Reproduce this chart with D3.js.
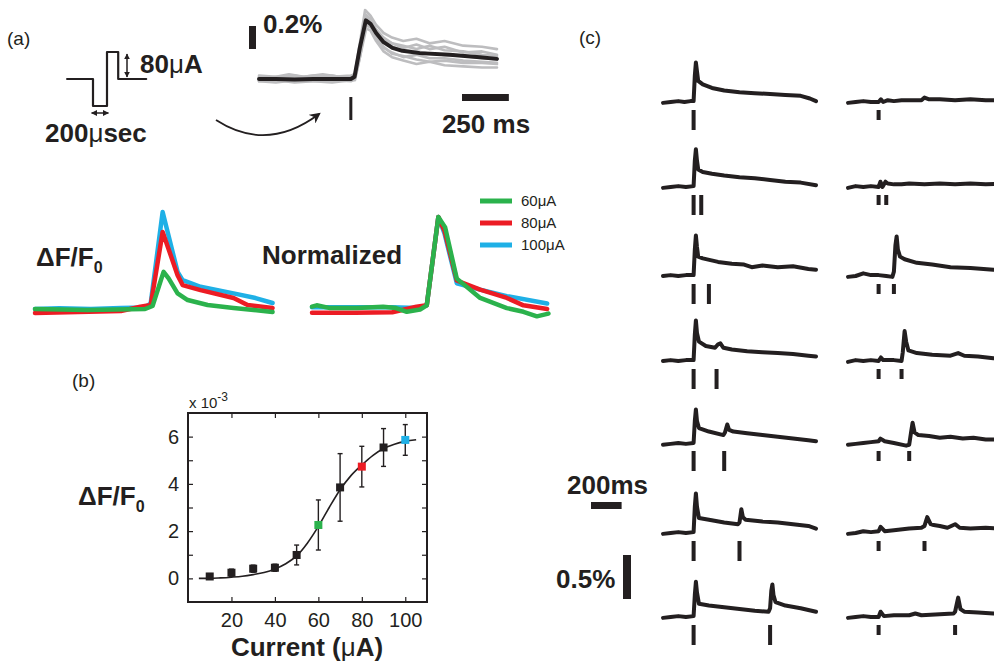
<!DOCTYPE html>
<html>
<head>
<meta charset="utf-8">
<title></title>
<script src="https://d3js.org/d3.v7.min.js"></script>
<style>
  body { margin: 0; background: #fff; }
  svg { display: block; font-family: "Liberation Sans", Arial, Helvetica, sans-serif; }
</style>
</head>
<body>
<div id="fig"></div>
<script>
/* ------------------
  data
------------------ */

// (a) stimulus pulse schematic (usec, uA)
var pulseT = [-370, 0, 0, 200, 200, 360, 360, 760];
var pulseI = [0, 0, -80, -80, 80, 80, 0, 0];

// (a) single stimulus response: mean and single trials (ms, % dF/F)
var meanTrace = [[-490,0],[-400,0],[-300,-0.005],[-200,0],[-100,0],[0,0],[20,0.02],[48,0.27],[80,0.51],[105,0.48],[135,0.4],[175,0.32],[222,0.27],[275,0.245],[368,0.225],[528,0.21],[688,0.19],[780,0.175]];
var trialTraces = [
  [[-490,0.03],[-400,0.02],[-330,0.04],[-250,0.02],[-150,0.04],[-60,0.02],[0,0.02],[22,0.05],[50,0.33],[76,0.6],[105,0.55],[135,0.47],[175,0.4],[220,0.36],[280,0.33],[350,0.35],[420,0.31],[500,0.33],[600,0.29],[700,0.28],[780,0.26]],
  [[-490,-0.02],[-400,-0.01],[-300,-0.03],[-200,-0.02],[-100,-0.01],[0,-0.02],[22,0],[50,0.2],[82,0.44],[105,0.42],[135,0.33],[175,0.24],[220,0.19],[280,0.16],[350,0.13],[420,0.15],[500,0.12],[600,0.11],[700,0.1],[780,0.1]],
  [[-490,0.01],[-420,0],[-320,0.02],[-220,0.01],[-100,0.03],[0,0],[22,0.02],[50,0.3],[78,0.55],[105,0.5],[135,0.43],[175,0.35],[220,0.31],[280,0.29],[350,0.26],[420,0.29],[500,0.25],[600,0.24],[700,0.21],[780,0.2]],
  [[-490,-0.01],[-400,0.01],[-300,0],[-200,-0.01],[-100,0],[0,0.01],[22,0.01],[50,0.25],[84,0.49],[105,0.47],[135,0.37],[175,0.28],[220,0.22],[280,0.2],[350,0.17],[420,0.15],[500,0.16],[600,0.14],[700,0.14],[780,0.13]],
  [[-490,0],[-400,0.02],[-300,0.01],[-200,0.03],[-100,0.01],[0,0.02],[22,0.03],[50,0.29],[80,0.53],[105,0.5],[135,0.43],[175,0.36],[220,0.31],[280,0.27],[350,0.3],[420,0.26],[500,0.28],[600,0.23],[700,0.24],[780,0.21]],
  [[-490,-0.02],[-400,-0.03],[-300,-0.01],[-200,-0.02],[-100,-0.03],[0,-0.01],[22,-0.01],[50,0.2],[78,0.47],[105,0.45],[135,0.36],[175,0.27],[220,0.23],[280,0.19],[350,0.21],[420,0.18],[500,0.18],[600,0.16],[700,0.15],[780,0.14]],
  [[-490,0.02],[-400,0],[-300,0.03],[-200,0],[-100,0.02],[0,0.03],[22,0.04],[50,0.28],[80,0.56],[105,0.52],[135,0.41],[175,0.33],[220,0.28],[280,0.25],[350,0.24],[420,0.22],[500,0.21],[600,0.2],[700,0.18],[780,0.17]]
];

// (a) dF/F traces at three currents (ms, % dF/F)
var currentLabels = ['60\u03bcA', '80\u03bcA', '100\u03bcA'];
var currentColors = ['#2bb24c', '#ec1c24', '#1fb0e6'];
var dff60 = [[-630,0.006],[-350,0],[-40,0.006],[0,0.024],[59,0.23],[86,0.19],[134,0.1],[188,0.06],[295,0.03],[434,0.012],[643,-0.012]];
var dff80 = [[-630,-0.018],[-400,-0.012],[-170,-0.006],[-65,0.02],[-10,0.03],[54,0.47],[134,0.21],[161,0.15],[257,0.12],[434,0.072],[509,0.03],[643,0.012]];
var dff100 = [[-630,0.006],[-500,0.01],[-330,0.006],[-170,0.012],[-40,0.015],[-10,0.04],[54,0.59],[134,0.23],[161,0.18],[257,0.14],[434,0.1],[552,0.072],[643,0.042]];
// (a) same traces normalized to peak
var norm60 = [[-630,0.025],[-605,0.04],[-533,0.01],[-390,0.01],[-249,0.025],[-180,0.01],[-122,-0.03],[-51,-0.005],[-15,0.04],[47,1],[83,0.89],[146,0.33],[271,0.12],[414,0.01],[503,-0.03],[575,-0.08],[637,-0.05]];
var norm80 = [[-630,-0.04],[-400,-0.04],[-200,-0.035],[-70,0.025],[-15,0.04],[47,1],[80,0.85],[146,0.31],[271,0.21],[414,0.12],[503,0.04],[630,0]];
var norm100 = [[-630,0.02],[-400,0.02],[-200,0.02],[-70,0.01],[-15,0.04],[47,1],[80,0.82],[146,0.28],[271,0.21],[414,0.14],[630,0.06]];

// (b) peak dF/F vs current (x 10^-3)
var current = [10, 20, 30, 40, 50, 60, 70, 80, 90, 100];
var peakDff = [0.08, 0.24, 0.41, 0.45, 0.99, 2.26, 3.85, 4.73, 5.54, 5.86];
var peakErr = [0.12, 0.15, 0.15, 0.15, 0.42, 1.06, 1.43, 0.86, 0.8, 0.65];
var fitX = [5, 10, 15, 20, 25, 30, 35, 40, 45, 50, 55, 60, 65, 70, 75, 80, 85, 90, 95, 100, 105];
var fitY = [0, 0, 0.02, 0.05, 0.09, 0.16, 0.25, 0.4, 0.62, 0.95, 1.5, 2.2, 3.0, 3.75, 4.35, 4.8, 5.2, 5.5, 5.68, 5.8, 5.87];
var bxTicks = [20, 40, 60, 80, 100];
var byTicks = [0, 1, 2, 3, 4, 5, 6];

// (c) paired stimuli (ms, % dF/F); left: strong current, right: weak current
var stimLeft = [[0], [0, 50], [0, 100], [0, 150], [0, 200], [0, 300], [0, 500]];
var stimRight = [[0], [0, 50], [0, 100], [0, 150], [0, 200], [0, 300], [0, 500]];
var tracesLeft = [
  [[-200,-0.01],[-150,0],[-100,0.01],[-60,0],[-20,0.01],[0,0.01],[8,0.3],[15,0.45],[22,0.35],[30,0.24],[60,0.2],[120,0.16],[200,0.13],[300,0.11],[400,0.1],[500,0.09],[600,0.08],[700,0.07],[760,0.04],[800,0.01]],
  [[-200,-0.01],[-150,0],[-100,0.01],[-50,0],[0,0.01],[8,0.3],[15,0.43],[22,0.3],[30,0.2],[60,0.17],[120,0.15],[200,0.13],[300,0.11],[400,0.1],[500,0.08],[600,0.06],[700,0.05],[800,0.02]],
  [[-200,0],[-150,0.01],[-100,0],[-50,0.01],[0,0.01],[8,0.3],[15,0.46],[22,0.33],[30,0.22],[60,0.2],[110,0.18],[160,0.16],[250,0.14],[330,0.13],[380,0.1],[450,0.12],[550,0.1],[650,0.11],[750,0.08],[800,0.07]],
  [[-200,0],[-150,0.01],[-100,0],[-50,0.01],[0,0.01],[8,0.3],[15,0.46],[22,0.32],[35,0.22],[80,0.17],[140,0.15],[160,0.19],[175,0.2],[195,0.15],[250,0.13],[350,0.11],[450,0.1],[550,0.09],[650,0.08],[750,0.06],[800,0.05]],
  [[-200,-0.02],[-150,-0.01],[-100,0],[-50,-0.01],[0,0],[8,0.25],[15,0.38],[22,0.25],[35,0.17],[100,0.13],[195,0.09],[205,0.12],[220,0.21],[232,0.15],[260,0.13],[350,0.11],[450,0.09],[550,0.07],[650,0.05],[750,0.03],[800,0.02]],
  [[-200,-0.01],[-150,0],[-100,0.01],[-50,0],[0,0.01],[8,0.3],[15,0.45],[22,0.3],[35,0.17],[100,0.15],[200,0.12],[290,0.1],[300,0.12],[312,0.27],[322,0.18],[340,0.15],[450,0.13],[550,0.12],[650,0.1],[750,0.08],[800,0.05]],
  [[-200,-0.01],[-150,0],[-100,0.01],[-50,0],[0,0.01],[8,0.25],[15,0.4],[22,0.28],[35,0.15],[100,0.13],[200,0.11],[300,0.09],[400,0.07],[490,0.06],[500,0.1],[508,0.3],[515,0.37],[522,0.25],[535,0.17],[600,0.13],[700,0.1],[800,0.06]]
];
var tracesRight = [
  [[-200,-0.01],[-150,0],[-100,0.01],[-50,0],[0,0],[15,0.03],[30,0],[60,0.02],[100,0.01],[150,0.02],[200,0.02],[280,0.02],[300,0.05],[330,0.03],[400,0.03],[500,0.02],[600,0.03],[700,0.02],[800,0.02]],
  [[-200,-0.01],[-150,0.01],[-100,0],[-50,0.01],[0,0],[12,0.06],[25,0],[45,0.06],[60,0.04],[100,0.03],[150,0.03],[200,0.04],[300,0.03],[400,0.04],[500,0.03],[600,0.04],[700,0.03],[800,0.04]],
  [[-200,-0.01],[-150,0],[-100,0.03],[-50,0.01],[0,0.01],[50,0],[90,-0.01],[100,0.05],[110,0.35],[118,0.45],[126,0.3],[140,0.22],[170,0.19],[250,0.15],[350,0.13],[470,0.1],[600,0.09],[750,0.07],[800,0.07]],
  [[-200,-0.01],[-150,0.01],[-100,0],[-50,0.01],[0,0],[15,0.04],[30,0.01],[100,0.01],[150,0],[158,0.1],[170,0.34],[180,0.22],[195,0.12],[250,0.09],[350,0.07],[470,0.06],[520,0.09],[560,0.06],[650,0.05],[750,0.03],[800,0.03]],
  [[-200,-0.02],[-150,-0.01],[-100,0],[-50,0.01],[0,0.02],[12,0.05],[40,0.02],[100,0],[180,-0.03],[200,-0.02],[212,0.12],[222,0.23],[235,0.12],[260,0.09],[330,0.08],[400,0.06],[470,0.07],[550,0.05],[620,0.06],[700,0.04],[800,0.04]],
  [[-200,-0.01],[-150,0],[-100,0.02],[-50,0.01],[0,0.02],[13,0.07],[40,0.02],[100,0.03],[200,0.05],[280,0.06],[300,0.08],[318,0.18],[340,0.1],[360,0.09],[400,0.08],[450,0.06],[500,0.1],[530,0.06],[600,0.05],[700,0.06],[800,0.05]],
  [[-200,-0.01],[-150,0],[-100,0.01],[-50,0],[0,0],[13,0.06],[35,0.01],[100,0.02],[200,0.02],[240,0.04],[280,0.02],[400,0.03],[490,0.04],[500,0.06],[520,0.22],[535,0.09],[560,0.06],[650,0.05],[750,0.04],[800,0.04]]
];

/* ------------------
  setup
------------------ */
var ink = '#231f20';
var svg = d3.select('#fig').append('svg').attr('width', 994).attr('height', 661);

// text with mixed bold / normal pieces, e.g. bold digits with a plain mu
function label(x, y, parts, size, anchor) {
  var t = svg.append('text').attr('x', x).attr('y', y).attr('font-size', size)
    .attr('fill', ink).attr('text-anchor', anchor || 'start');
  parts.forEach(function(p) {
    var s = t.append('tspan').text(p[0]).attr('font-weight', p[1] ? 'bold' : 'normal');
    if (p[2]) s.attr('dy', p[2]).attr('font-size', p[3]);
  });
  return t;
}

function trace(xs, ys, data, color, width) {
  var line = d3.line().x(function(d) { return xs(d[0]); }).y(function(d) { return ys(d[1]); });
  svg.append('path').datum(data).attr('d', line).attr('fill', 'none')
    .attr('stroke', color).attr('stroke-width', width)
    .attr('stroke-linejoin', 'round').attr('stroke-linecap', 'round');
}

var defs = svg.append('defs');
defs.append('marker').attr('id', 'head').attr('viewBox', '0 0 10 10').attr('refX', 9).attr('refY', 5)
  .attr('markerWidth', 4).attr('markerHeight', 4).attr('orient', 'auto-start-reverse')
  .append('path').attr('d', 'M0,0 L10,5 L0,10 z').attr('fill', ink);
defs.append('marker').attr('id', 'bighead').attr('viewBox', '0 0 10 10').attr('refX', 8).attr('refY', 5)
  .attr('markerWidth', 6).attr('markerHeight', 6).attr('orient', 'auto')
  .append('path').attr('d', 'M0,0 L10,5 L0,10 L3,5 z').attr('fill', ink);

/* ------------------
  (a) top: pulse and single response
------------------ */
label(7, 45, [['(a)', false]], 19);

var px = d3.scaleLinear().domain([0, 200]).range([93, 107]);
var py = d3.scaleLinear().domain([0, 80]).range([79, 52]);
var pulse = pulseT.map(function(t, i) { return [t, pulseI[i]]; });
trace(px, py, pulse, ink, 2.2);
svg.append('line').attr('x1', 127).attr('x2', 127).attr('y1', py(80) + 2).attr('y2', py(0) - 2)
  .attr('stroke', ink).attr('stroke-width', 1.5)
  .attr('marker-start', 'url(#head)').attr('marker-end', 'url(#head)');
svg.append('line').attr('x1', px(-20)).attr('x2', px(220)).attr('y1', 113).attr('y2', 113)
  .attr('stroke', ink).attr('stroke-width', 1.5)
  .attr('marker-start', 'url(#head)').attr('marker-end', 'url(#head)');
label(140, 73, [['80', true], ['\u03bc', false], ['A', true]], 26);
label(45, 142, [['200', true], ['\u03bc', false], ['sec', true]], 26);

svg.append('path').attr('d', 'M216,120 Q267,153 319,114').attr('fill', 'none')
  .attr('stroke', ink).attr('stroke-width', 1.8).attr('marker-end', 'url(#bighead)');

var xA = d3.scaleLinear().domain([-490, 780]).range([259, 497]);
var yA = d3.scaleLinear().domain([0, 1]).range([79, 79 - 115]);
trialTraces.forEach(function(tr) { trace(xA, yA, tr, '#bdbdbf', 2.6); });
trace(xA, yA, meanTrace, ink, 4);
svg.append('rect').attr('x', xA(0) - 1.5).attr('y', 97).attr('width', 3).attr('height', 23).attr('fill', ink);

svg.append('rect').attr('x', 249).attr('y', yA(0.2) - 30).attr('width', 7)
  .attr('height', yA(0) - yA(0.2)).attr('fill', ink);
label(263, 33, [['0.2%', true]], 26);
svg.append('rect').attr('x', 462).attr('y', 94).attr('width', xA(250) - xA(0)).attr('height', 7).attr('fill', ink);
label(486, 133, [['250 ms', true]], 26, 'middle');

/* ------------------
  (a) middle: dF/F and normalized
------------------ */
var xL = d3.scaleLinear().domain([-630, 640]).range([35, 272]);
var yL = d3.scaleLinear().domain([0, 1]).range([310, 310 - 166]);
var xN = d3.scaleLinear().domain([-630, 640]).range([312, 549]);
var yN = d3.scaleLinear().domain([0, 1]).range([309, 217]);

[dff100, dff80, dff60].forEach(function(d, i) { trace(xL, yL, d, currentColors[2 - i], 4.5); });
[norm100, norm80, norm60].forEach(function(d, i) { trace(xN, yN, d, currentColors[2 - i], 4.5); });

label(36, 266, [['\u0394F/F', true], ['0', true, 7, 16]], 26);
label(262, 264, [['Normalized', true]], 26);

currentLabels.forEach(function(s, i) {
  var ly = 201 + i * 22;
  svg.append('line').attr('x1', 480).attr('x2', 512).attr('y1', ly).attr('y2', ly)
    .attr('stroke', currentColors[i]).attr('stroke-width', 5);
  label(521, ly + 5, [[s, false]], 15);
});

/* ------------------
  (b) peak vs current
------------------ */
label(72, 387, [['(b)', false]], 19);
var bx = d3.scaleLinear().domain([0, 110]).range([188, 427]);
var by = d3.scaleLinear().domain([-1, 7]).range([602, 413]);

var gb = svg.append('g');
gb.append('g').attr('transform', 'translate(188,0)')
  .call(d3.axisLeft(by).tickValues(byTicks).tickSizeInner(-5).tickSizeOuter(0).tickPadding(9)
    .tickFormat(function(d) { return d % 2 === 0 ? d : ''; }));
gb.append('g').attr('transform', 'translate(427,0)')
  .call(d3.axisRight(by).tickValues(byTicks).tickSizeInner(-5).tickSizeOuter(0).tickFormat(''));
gb.append('g').attr('transform', 'translate(0,602)')
  .call(d3.axisBottom(bx).tickValues(bxTicks).tickSizeInner(-5).tickSizeOuter(0).tickPadding(11));
gb.append('g').attr('transform', 'translate(0,413)')
  .call(d3.axisTop(bx).tickValues(bxTicks).tickSizeInner(-5).tickSizeOuter(0).tickFormat(''));
gb.selectAll('.domain').remove();
gb.selectAll('.tick line').attr('stroke', ink).attr('stroke-width', 1.2);
gb.selectAll('.tick text').attr('font-size', 20).attr('fill', ink)
  .attr('font-family', '"Liberation Sans", Arial, sans-serif');
svg.append('rect').attr('x', bx(0)).attr('y', by(7)).attr('width', bx(110) - bx(0))
  .attr('height', by(-1) - by(7)).attr('fill', 'none').attr('stroke', ink).attr('stroke-width', 2);

label(189, 408, [['x 10', false], ['-3', false, -7, 12]], 15);

var fit = fitX.map(function(x, i) { return [x, fitY[i]]; });
var fitLine = d3.line().x(function(d) { return bx(d[0]); }).y(function(d) { return by(d[1]); }).curve(d3.curveMonotoneX);
svg.append('path').datum(fit).attr('d', fitLine).attr('fill', 'none').attr('stroke', ink).attr('stroke-width', 1.6);

var pointColor = function(c) { return c === 60 ? currentColors[0] : c === 80 ? currentColors[1] : c === 100 ? currentColors[2] : ink; };
current.forEach(function(c, i) {
  var cx = bx(c), lo = by(peakDff[i] - peakErr[i]), hi = by(peakDff[i] + peakErr[i]);
  svg.append('line').attr('x1', cx).attr('x2', cx).attr('y1', lo).attr('y2', hi).attr('stroke', ink).attr('stroke-width', 1.4);
  [lo, hi].forEach(function(yy) {
    svg.append('line').attr('x1', cx - 2.5).attr('x2', cx + 2.5).attr('y1', yy).attr('y2', yy).attr('stroke', ink).attr('stroke-width', 1.4);
  });
  svg.append('rect').attr('x', cx - 4).attr('y', by(peakDff[i]) - 4).attr('width', 8).attr('height', 8).attr('fill', pointColor(c));
});

label(78, 505, [['\u0394F/F', true], ['0', true, 7, 16]], 26);
label(307, 656, [['Current (', true], ['\u03bc', false], ['A)', true]], 26, 'middle');

/* ------------------
  (c) paired stimuli
------------------ */
label(579, 44, [['(c)', false]], 19);
var cRowY = [102, 187, 276, 361, 443, 533, 617];
var xCL = d3.scaleLinear().domain([-200, 800]).range([663, 816]);
var xCR = d3.scaleLinear().domain([-200, 800]).range([848, 1001]);
var cUnit = 88; // px per 1 % dF/F

cRowY.forEach(function(base, r) {
  var yC = d3.scaleLinear().domain([0, 1]).range([base, base - cUnit]);
  trace(xCL, yC, tracesLeft[r], ink, 4);
  trace(xCR, yC, tracesRight[r], ink, 4);
  stimLeft[r].forEach(function(t) {
    svg.append('rect').attr('x', xCL(t) - 2).attr('y', base + 8).attr('width', 4).attr('height', 20).attr('fill', ink);
  });
  stimRight[r].forEach(function(t) {
    svg.append('rect').attr('x', xCR(t) - 2).attr('y', base + 8).attr('width', 4).attr('height', 10).attr('fill', ink);
  });
});

label(567, 494, [['200ms', true]], 26);
svg.append('rect').attr('x', 591).attr('y', 502).attr('width', xCL(200) - xCL(0)).attr('height', 7).attr('fill', ink);
label(556, 588, [['0.5%', true]], 26);
svg.append('rect').attr('x', 623).attr('y', 555).attr('width', 8).attr('height', 0.5 * cUnit).attr('fill', ink);
</script>
</body>
</html>
